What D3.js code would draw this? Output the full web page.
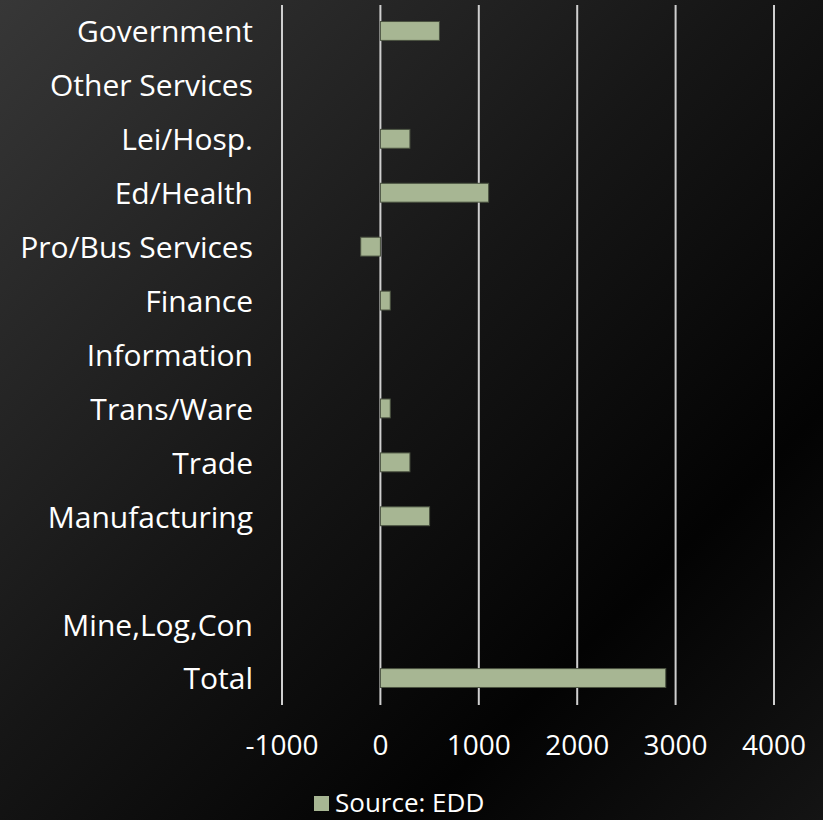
<!DOCTYPE html>
<html>
<head>
<meta charset="utf-8">
<script src="https://cdn.jsdelivr.net/npm/d3@7/dist/d3.min.js"></script>
<style>
  html, body { margin: 0; padding: 0; background: #000; }
  svg { display: block; }
  text { font-family: "Open Sans", "DejaVu Sans", sans-serif; fill: #ffffff; }
</style>
</head>
<body>
<svg id="chart" width="823" height="820"></svg>
<script>
// Job change by industry, bottom row first (blank row separates totals)
const categories = ["Total", "Mine,Log,Con", " ", "Manufacturing", "Trade", "Trans/Ware",
  "Information", "Finance", "Pro/Bus Services", "Ed/Health", "Lei/Hosp.",
  "Other Services", "Government"];
const values = [2900, 0, 0, 500, 300, 100, 0, 100, -200, 1100, 300, 0, 600];
const xTicks = [-1000, 0, 1000, 2000, 3000, 4000];
const seriesName = "Source: EDD";

const W = 823, H = 820;
const svg = d3.select("#chart");

// Background shading
const defs = svg.append("defs");
const bg = defs.append("linearGradient").attr("id", "bg")
  .attr("x1", "0").attr("y1", "0").attr("x2", "1").attr("y2", "1");
bg.append("stop").attr("offset", "0%").attr("stop-color", "#373737");
bg.append("stop").attr("offset", "45%").attr("stop-color", "#161616");
bg.append("stop").attr("offset", "75%").attr("stop-color", "#030303");
bg.append("stop").attr("offset", "100%").attr("stop-color", "#141414");
svg.append("rect").attr("width", W).attr("height", H).attr("fill", "url(#bg)");

const x = d3.scaleLinear().domain([-1000, 4000]).range([282, 774]);
const y = d3.scaleBand().domain(categories.slice().reverse()).range([4, 705]).paddingInner(0.65).paddingOuter(0.325);

// Vertical gridlines
svg.append("g").selectAll("line").data(xTicks).join("line")
  .attr("x1", d => x(d)).attr("x2", d => x(d))
  .attr("y1", 5).attr("y2", 705)
  .attr("stroke", "#cfcfcf").attr("stroke-width", 2);

// Bars
svg.append("g").selectAll("rect").data(categories).join("rect")
  .attr("x", (d, i) => x(Math.min(0, values[i])))
  .attr("width", (d, i) => Math.abs(x(values[i]) - x(0)))
  .attr("y", d => y(d))
  .attr("height", y.bandwidth())
  .attr("fill", "#a7b693")
  .attr("stroke", "#4a5240").attr("stroke-width", 1);

// Category labels
svg.append("g").selectAll("text").data(categories).join("text")
  .attr("x", 253).attr("y", d => y(d) + y.bandwidth() / 2)
  .attr("dy", "0.38em").attr("text-anchor", "end")
  .attr("font-size", 30)
  .text(d => d);

// X axis labels
svg.append("g").selectAll("text").data(xTicks).join("text")
  .attr("x", d => x(d)).attr("y", 755)
  .attr("text-anchor", "middle").attr("font-size", 28)
  .text(d => d);

// Legend
const lg = svg.append("g");
lg.append("rect").attr("x", 314).attr("y", 796).attr("width", 15).attr("height", 15).attr("fill", "#a7b693");
lg.append("text").attr("x", 335).attr("y", 812).attr("font-size", 26).text(seriesName);
</script>
</body>
</html>
